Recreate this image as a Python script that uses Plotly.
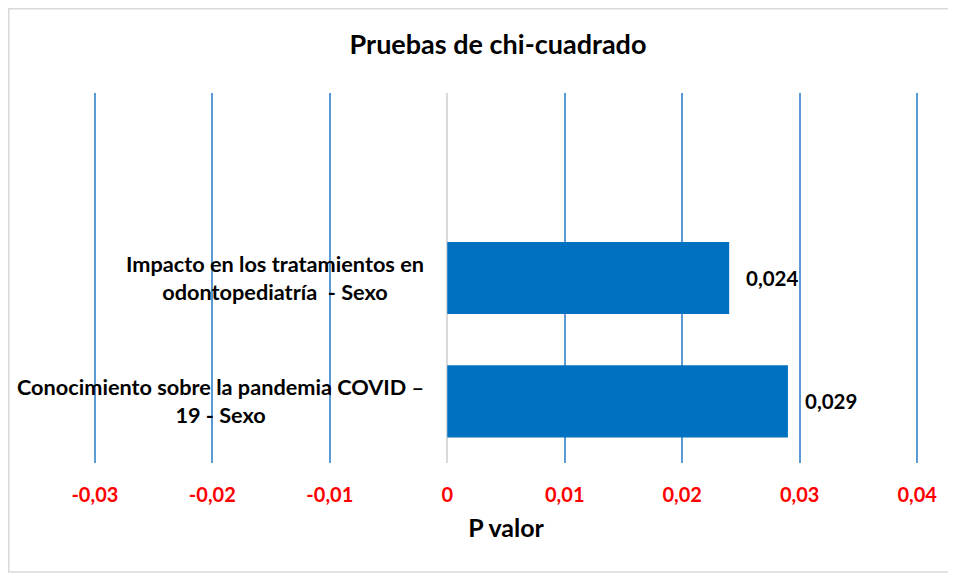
import plotly.graph_objects as go

categories = ["Conocimiento sobre la pandemia COVID –<br>19 - Sexo",
              "Impacto en los tratamientos en<br>odontopediatría  - Sexo"]
p_values = [0.029, 0.024]
value_labels = ["0,029", "0,024"]
tick_vals = [-0.03, -0.02, -0.01, 0, 0.01, 0.02, 0.03, 0.04]
tick_text = ["-0,03", "-0,02", "-0,01", "0", "0,01", "0,02", "0,03", "0,04"]

FONT = "Lato"
W, H = 948, 569
L, R, T, B = 81, 33, 85, 114

pos = list(range(len(categories)))

fig = go.Figure()
fig.add_trace(go.Bar(
    x=p_values, y=pos, orientation="h",
    marker=dict(color="#0070C0", line=dict(width=0)),
    width=0.585, hoverinfo="skip",
))

annotations = []
for yv, xv, lab in zip(pos, p_values, value_labels):
    annotations.append(dict(x=xv, y=yv, xref="x", yref="y", text=lab,
                            showarrow=False, xanchor="left", xshift=15,
                            font=dict(family=FONT, size=20.5, color="black", weight="bold")))
for yv, cat in zip(pos, categories):
    annotations.append(dict(x=0, y=yv, xref="x", yref="y", text=cat,
                            showarrow=False, xanchor="right", xshift=-21, align="center",
                            font=dict(family=FONT, size=21.7, color="black", weight="bold")))

pw = W - L - R
ph = H - T - B
def px(x): return (x - L) / pw
def py(y): return 1 - (y - T) / ph

fig.update_layout(
    width=W, height=H,
    margin=dict(l=L, r=R, t=T, b=B),
    paper_bgcolor="white", plot_bgcolor="white",
    showlegend=False,
    title=dict(text="<b>Pruebas de chi-cuadrado</b>", x=490 / W, xanchor="center",
               y=1 - 37 / H, yanchor="middle",
               font=dict(family=FONT, size=27, color="black")),
    xaxis=dict(range=[-0.0305, 0.0405], tickvals=tick_vals, ticktext=tick_text,
               showgrid=True, gridcolor="#5B9BD5", gridwidth=1.5,
               zeroline=True, zerolinecolor="#D9D9D9", zerolinewidth=1.5,
               showline=False, ticks="", ticklabelstandoff=18,
               tickfont=dict(family=FONT, size=20, color="#FF0000", weight="bold"),
               title=dict(text="<b>P valor</b>", standoff=14,
                          font=dict(family=FONT, size=25, color="black"))),
    yaxis=dict(range=[-0.5, 2.5], showticklabels=False, showgrid=False,
               zeroline=False, showline=False, ticks=""),
    annotations=annotations,
    shapes=[dict(type="rect", xref="paper", yref="paper",
                 x0=px(0.75), x1=px(947), y0=py(564), y1=py(0.75),
                 line=dict(color="#D9D9D9", width=1.5), layer="below")],
)

fig.write_html("out.html")
